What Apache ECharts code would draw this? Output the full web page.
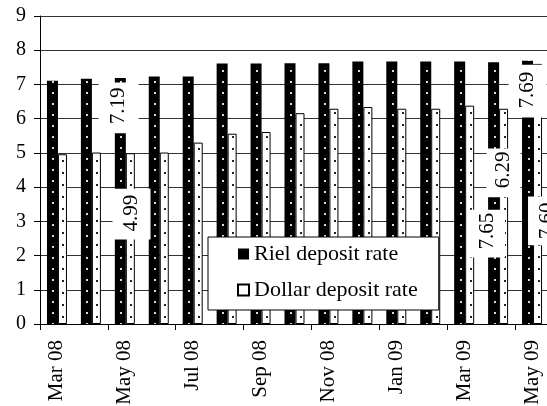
<!DOCTYPE html>
<html>
<head>
<meta charset="utf-8">
<script src="https://cdn.jsdelivr.net/npm/echarts@6/dist/echarts.min.js"></script>
<style>
html,body{margin:0;padding:0;background:#fff;}
#chart{width:547px;height:406px;}
</style>
</head>
<body>
<div id="chart"></div>
<script>
// ---- data ----
var months = ['Mar 08','Apr 08','May 08','Jun 08','Jul 08','Aug 08','Sep 08','Oct 08','Nov 08','Dec 08','Jan 09','Feb 09','Mar 09','Apr 09','May 09'];
var rielRate = [7.11, 7.17, 7.19, 7.23, 7.23, 7.61, 7.61, 7.62, 7.62, 7.67, 7.67, 7.67, 7.67, 7.65, 7.69];
var dollarRate = [4.96, 5.01, 4.99, 5.01, 5.30, 5.56, 5.61, 6.16, 6.29, 6.34, 6.29, 6.29, 6.38, 6.29, 7.60];
var yTicks = [0,1,2,3,4,5,6,7,8,9];
var seriesNames = ['Riel deposit rate', 'Dollar deposit rate'];

// labelled points: [seriesIndex, dataIndex]
var labelledPoints = [[0,2],[1,2],[0,13],[1,13],[0,14],[1,14]];
// label placement styles (offset from bar top-left, padding [top,right,bottom,left] in text frame)
var labelStyles = [
  {offset:[3.7,30.0], padding:[6,5,13,9]},
  {offset:[5.7,60.8], padding:[6,6,11,8]},
  {offset:[-0.6,171.3], padding:[4,3,10,8]},
  {offset:[4.4,64.2], padding:[6,3,7,9]},
  {offset:[5.5,30.2], padding:[5,7,12,9]},
  {offset:[14,157], padding:[7,6,10,6]}
];

function makePattern(bg, dotColor, dotX, h) {
  var c = document.createElement('canvas');
  c.width = 34; c.height = h;
  var ctx = c.getContext('2d');
  ctx.fillStyle = bg; ctx.fillRect(0,0,34,h);
  ctx.fillStyle = dotColor; ctx.fillRect(dotX, 4, 2, 2);
  return {image: c, repeat: 'repeat'};
}
var rielPattern = makePattern('#000000', '#d8d8d8', 18, 11);
var dollarPattern = makePattern('#ffffff', '#222222', 28, 12);

function buildData(values, sIdx) {
  return values.map(function (v, i) {
    var item = {value: v};
    for (var k = 0; k < labelledPoints.length; k++) {
      if (labelledPoints[k][0] === sIdx && labelledPoints[k][1] === i) {
        var st = labelStyles[k];
        item.label = {
          show: true,
          position: st.offset,
          rotate: 90,
          align: 'center',
          verticalAlign: 'middle',
          backgroundColor: '#ffffff',
          padding: st.padding,
          color: '#000',
          fontFamily: 'Liberation Serif',
          fontSize: 21,
          formatter: function (p) { return p.value.toFixed(2); }
        };
      }
    }
    return item;
  });
}

var chart = echarts.init(document.getElementById('chart'), null, {renderer: 'canvas'});
var font = 'Liberation Serif';
chart.setOption({
  animation: false,
  backgroundColor: '#ffffff',
  grid: {left: 40, right: -2, top: 16, bottom: 82, containLabel: false, outerBoundsMode: 'none'},
  legend: {
    orient: 'vertical',
    left: 208, top: 237,
    padding: [6, 21, 9, 29],
    itemGap: 14,
    itemWidth: 11, itemHeight: 11,
    backgroundColor: '#ffffff',
    borderColor: '#000000',
    borderWidth: 1,
    textStyle: {fontFamily: font, fontSize: 22, color: '#000', lineHeight: 22},
    data: [{name: seriesNames[0], icon: 'rect'}, {name: seriesNames[1], icon: 'rect'}]
  },
  xAxis: {
    type: 'category',
    data: months,
    boundaryGap: true,
    axisLine: {show: true, lineStyle: {color: '#000', width: 1}},
    axisTick: {show: true, interval: 1, length: 6, lineStyle: {color: '#000'}},
    axisLabel: {interval: 1, rotate: 90, margin: 16, fontFamily: font, fontSize: 21, color: '#000'},
    splitLine: {show: false}
  },
  yAxis: {
    type: 'value',
    min: yTicks[0], max: yTicks[yTicks.length - 1], interval: 1,
    axisLine: {show: true, lineStyle: {color: '#000', width: 1}},
    axisTick: {show: true, length: 6, lineStyle: {color: '#000'}},
    axisLabel: {margin: 14, fontFamily: font, fontSize: 20, color: '#000'},
    splitLine: {show: true, lineStyle: {color: '#333333', width: 1}}
  },
  series: [
    {
      name: seriesNames[0], type: 'bar', barWidth: 11, barGap: '0%',
      itemStyle: {color: rielPattern, borderWidth: 0},
      data: buildData(rielRate, 0)
    },
    {
      name: seriesNames[1], type: 'bar', barWidth: 9, barGap: '0%',
      itemStyle: {color: dollarPattern, borderColor: '#000', borderWidth: 1},
      data: buildData(dollarRate, 1)
    }
  ]
});
</script>
</body>
</html>
